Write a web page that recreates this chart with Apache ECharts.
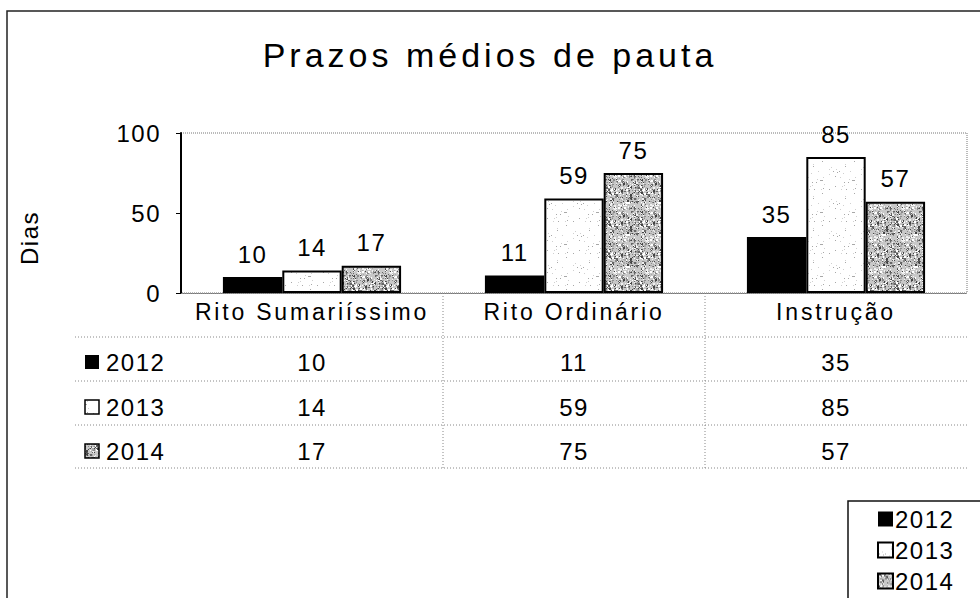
<!DOCTYPE html>
<html><head><meta charset="utf-8">
<script src="https://cdn.jsdelivr.net/npm/echarts@6/dist/echarts.min.js"></script>
<style>html,body{margin:0;padding:0;background:#fff}#c{width:980px;height:598px}</style>
</head><body><div id="c"></div>
<script>
const titleText = 'Prazos médios de pauta';
const yAxisName = 'Dias';
const categories = ['Rito Sumariíssimo', 'Rito Ordinário', 'Instrução'];
const years = ['2012', '2013', '2014'];
const values2012 = [10, 11, 35];
const values2013 = [14, 59, 85];
const values2014 = [17, 75, 57];
const yMin = 0, yMax = 100, yInterval = 50;
const seriesValues = [values2012, values2013, values2014];

const FONT = 'Liberation Sans';

function makePattern(kind) {
  const c = document.createElement('canvas');
  c.width = c.height = 32;
  const g = c.getContext('2d');
  let s = kind === 'light' ? 7 : 13;
  const rnd = () => { s = (s * 16807) % 2147483647; return s / 2147483647; };
  if (kind === 'light') {
    g.fillStyle = '#ffffff'; g.fillRect(0, 0, 32, 32);
    for (let i = 0; i < 30; i++) {
      g.fillStyle = rnd() < 0.5 ? '#d0d0d0' : '#a8a8a8';
      g.fillRect(Math.floor(rnd() * 32), Math.floor(rnd() * 32), 1, 1);
    }
  } else {
    g.fillStyle = '#c8c8c8'; g.fillRect(0, 0, 32, 32);
    const cols = ['#8a8a8a', '#666666', '#f0f0f0', '#a8a8a8', '#444444', '#ffffff'];
    for (let i = 0; i < 420; i++) {
      g.fillStyle = cols[Math.floor(rnd() * cols.length)];
      const sz = rnd() < 0.8 ? 1 : 2;
      g.fillRect(Math.floor(rnd() * 32), Math.floor(rnd() * 32), sz, sz);
    }
  }
  return c;
}
const patLight = makePattern('light');
const patDark = makePattern('dark');
const fills = ['#000000', { image: patLight, repeat: 'repeat' }, { image: patDark, repeat: 'repeat' }];

const chart = echarts.init(document.getElementById('c'), null, { renderer: 'svg' });

const rowOffsets = [50, 95, 139];
const rowCenters = [362, 407, 451];
const tableLinesY = [337, 381, 425, 468];

const xAxes = [{
  type: 'category', data: categories, gridIndex: 0, position: 'bottom',
  axisLine: { show: true, lineStyle: { color: '#777', width: 1, type: 'dotted' } },
  axisTick: { show: false },
  axisLabel: { fontSize: 23, color: '#000', fontFamily: FONT, margin: 7 }
}];
seriesValues.forEach((vals, r) => {
  xAxes.push({
    type: 'category', data: categories, gridIndex: 0, position: 'bottom', offset: rowOffsets[r],
    axisLine: { show: false }, axisTick: { show: false },
    axisLabel: { fontSize: 24, color: '#000', fontFamily: FONT, margin: 7,
      formatter: (v, i) => String(vals[i]) }
  });
});

const graphic = [
  { type: 'polyline', shape: { points: [[980, 11], [7, 11], [7, 598]] }, style: { stroke: '#222', lineWidth: 1.5, fill: null }, silent: true },
  { type: 'text', x: 29, y: 238, rotation: Math.PI / 2, style: { text: yAxisName, fontSize: 24, fontFamily: FONT, fill: '#000', align: 'center', verticalAlign: 'middle' } },
  { type: 'polyline', shape: { points: [[980, 501], [848, 501], [848, 598]] }, style: { stroke: '#111', lineWidth: 1.5, fill: null }, silent: true }
];
tableLinesY.forEach(y => graphic.push({ type: 'line', shape: { x1: 75, y1: y, x2: 967, y2: y }, style: { stroke: '#888', lineWidth: 1, lineDash: [1, 2] }, silent: true }));
[443, 705].forEach(x => graphic.push({ type: 'line', shape: { x1: x, y1: 296, x2: x, y2: 468 }, style: { stroke: '#888', lineWidth: 1, lineDash: [1, 2] }, silent: true }));
years.forEach((yr, r) => {
  graphic.push({ type: 'rect', shape: { x: 85, y: rowCenters[r] - 7, width: 14, height: 14 }, style: { fill: fills[r], stroke: '#000', lineWidth: r === 0 ? 0 : 1.5 } });
  graphic.push({ type: 'text', x: 106, y: rowCenters[r], style: { text: yr, fontSize: 24, fontFamily: FONT, fill: '#000', verticalAlign: 'middle' } });
});

const series = seriesValues.map((vals, r) => ({
  name: years[r], type: 'bar', data: vals, xAxisIndex: 0, yAxisIndex: 0,
  barGap: '0%', barCategoryGap: '32%',
  itemStyle: { color: fills[r], borderColor: '#000', borderWidth: r === 0 ? 0 : 2 },
  label: { show: true, position: 'top', distance: 11, fontSize: 24, color: '#000', fontFamily: FONT }
}));

chart.setOption({
  animation: false,
  backgroundColor: '#fff',
  textStyle: { fontFamily: FONT },
  title: { text: titleText, left: 'center', top: 38, padding: 0,
    textStyle: { fontSize: 34, fontWeight: 'normal', color: '#000', fontFamily: FONT } },
  legend: { data: years, orient: 'vertical', left: 877, top: 507, padding: 0,
    itemWidth: 15, itemHeight: 15, itemGap: 7, icon: 'rect',
    textStyle: { fontSize: 24, color: '#000', fontFamily: FONT, padding: [0, 0, 0, -3] } },
  grid: { left: 181, right: 13, top: 133, bottom: 305, show: true, borderColor: '#777', borderWidth: 1, borderType: 'dotted', backgroundColor: 'transparent' },
  xAxis: xAxes,
  yAxis: { type: 'value', min: yMin, max: yMax, interval: yInterval,
    axisLine: { show: true, lineStyle: { color: '#000', width: 2 } },
    axisTick: { show: true, length: 5, lineStyle: { color: '#000', width: 1 } },
    splitLine: { show: false },
    axisLabel: { fontSize: 24, color: '#000', fontFamily: FONT, margin: 20 } },
  graphic: graphic,
  series: series
});

function applySpacing() {
  document.querySelectorAll('#c svg text').forEach(t => {
    const fs = parseFloat(getComputedStyle(t).fontSize);
    let ls = fs >= 30 ? 4 : (fs < 23.5 ? 2.8 : 1.5);
    t.setAttribute('letter-spacing', ls + 'px');
  });
}
chart.on('finished', applySpacing);
applySpacing();
</script></body></html>
